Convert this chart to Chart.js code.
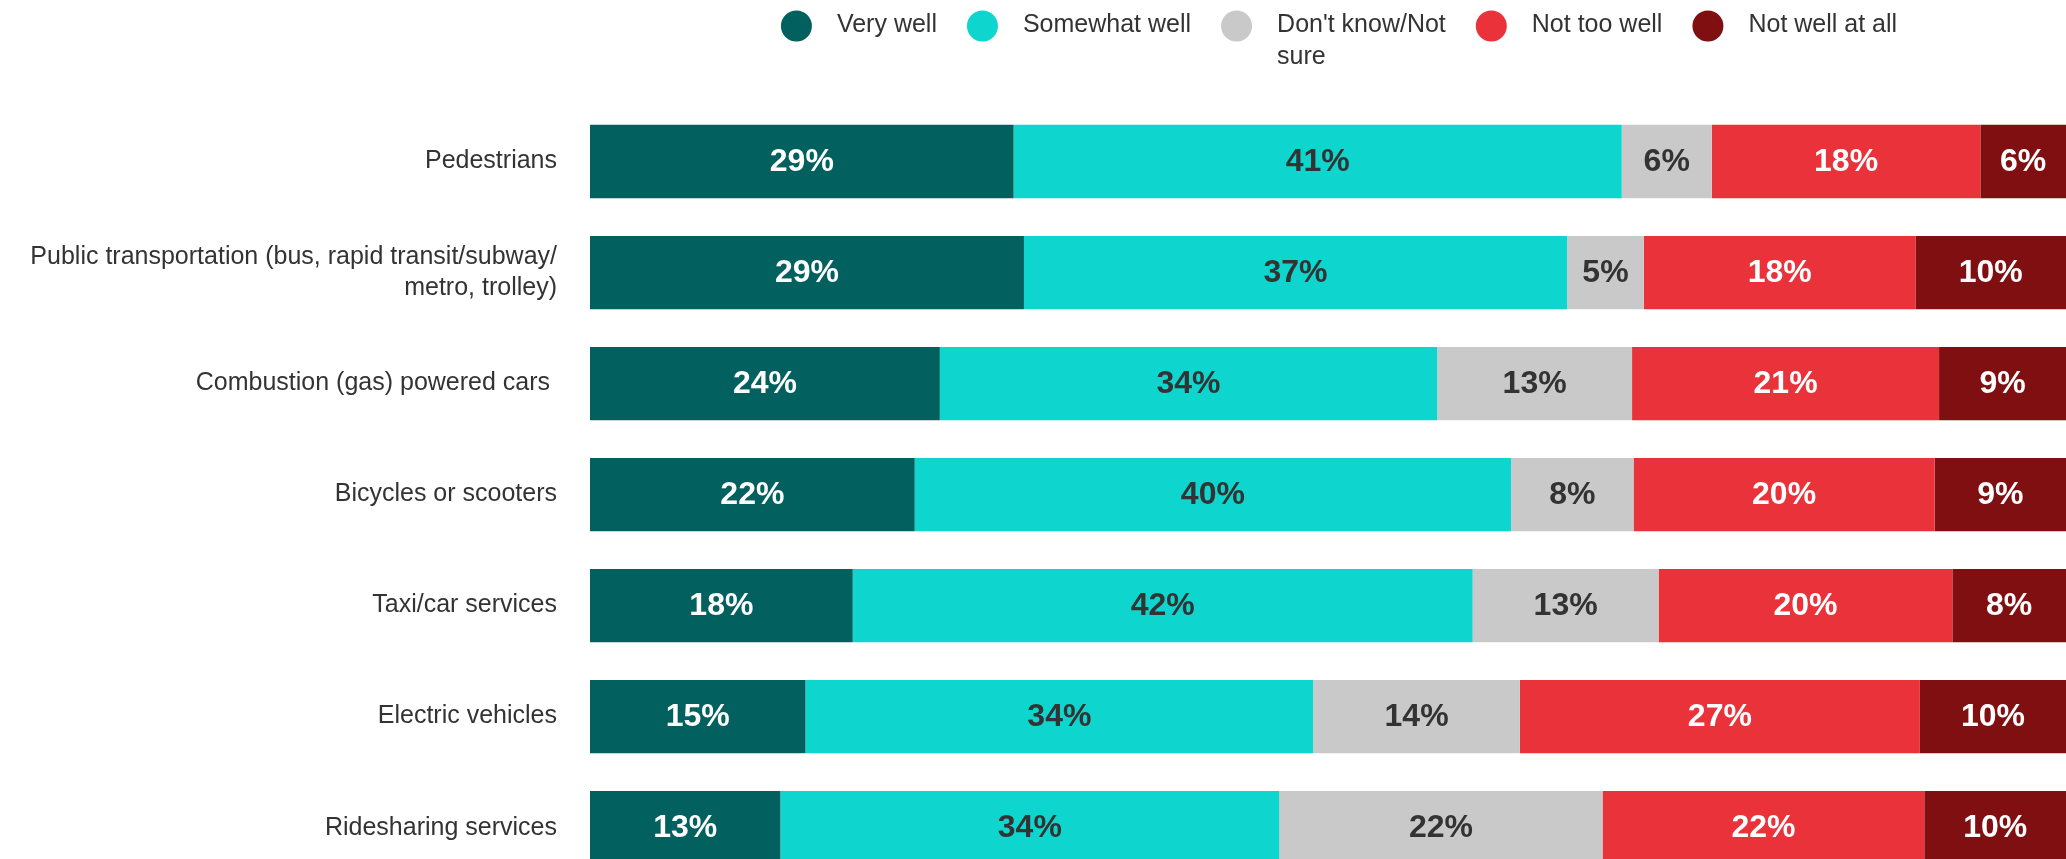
<!DOCTYPE html>
<html>
<head>
<meta charset="utf-8">
<title>How well served</title>
<script src="https://cdn.jsdelivr.net/npm/chart.js@4.4.1/dist/chart.umd.min.js"></script>
<style>
  html, body { margin: 0; padding: 0; background: #fff; overflow: hidden; }
  #chart { display: block; }
</style>
</head>
<body>
<canvas id="chart" width="2066" height="924"></canvas>
<script>
const categories = [
  'Pedestrians',
  ['Public transportation (bus, rapid transit/subway/', 'metro, trolley)'],
  'Combustion (gas) powered cars ',
  'Bicycles or scooters',
  'Taxi/car services',
  'Electric vehicles',
  'Ridesharing services'
];

const seriesNames = ['Very well', 'Somewhat well', "Don't know/Not sure", 'Not too well', 'Not well at all'];

// shares in %
const veryWell     = [28.7, 29.4, 23.7, 22.0, 17.8, 14.6, 12.9];
const somewhatWell = [41.2, 36.8, 33.7, 40.4, 42.0, 34.4, 33.8];
const dontKnow     = [6.1, 5.2, 13.2, 8.3, 12.6, 14.0, 21.9];
const notTooWell   = [18.2, 18.4, 20.8, 20.4, 19.9, 27.1, 21.8];
const notWellAtAll = [5.8, 10.2, 8.6, 8.9, 7.7, 9.9, 9.6];

const barColors   = ['#02605F', '#0ED6CF', '#C9C9C9', '#E9323A', '#7F0F11'];
const labelColors = ['#ffffff', '#333333', '#333333', '#ffffff', '#ffffff'];

const FONT = '"Liberation Sans", Arial, Helvetica, sans-serif';

// percentage text in the middle of every segment
const barLabels = {
  id: 'barLabels',
  afterDatasetsDraw(chart) {
    const ctx = chart.ctx;
    ctx.save();
    ctx.font = 'bold 32px ' + FONT;
    ctx.textAlign = 'center';
    ctx.textBaseline = 'middle';
    chart.data.datasets.forEach((ds, i) => {
      chart.getDatasetMeta(i).data.forEach((bar, j) => {
        const p = bar.getProps(['x', 'y', 'base'], true);
        ctx.fillStyle = labelColors[i];
        ctx.fillText(Math.round(ds.data[j]) + '%', (p.x + p.base) / 2, p.y + 1);
      });
    });
    ctx.restore();
  }
};

// legend with round markers, long names wrap onto a second line
const topLegend = {
  id: 'topLegend',
  afterDraw(chart) {
    const ctx = chart.ctx;
    const area = chart.chartArea;
    const r = 15.5, markGap = 25, itemGap = 30, maxText = 175, lineH = 32;
    ctx.save();
    ctx.font = '25px ' + FONT;
    const items = chart.data.datasets.map((ds) => {
      const words = ds.label.split(' ');
      const lines = [];
      let cur = '';
      words.forEach((w) => {
        const t = cur ? cur + ' ' + w : w;
        if (ctx.measureText(t).width > maxText && cur) { lines.push(cur); cur = w; }
        else cur = t;
      });
      lines.push(cur);
      const w = Math.max(...lines.map((l) => ctx.measureText(l).width));
      return { lines, w, color: ds.backgroundColor };
    });
    const total = items.reduce((s, it) => s + 2 * r + markGap + it.w, 0) + itemGap * (items.length - 1);
    let x = (area.left + area.right) / 2 + 11 - total / 2;
    const cy = 26;
    ctx.textBaseline = 'middle';
    ctx.textAlign = 'left';
    items.forEach((it) => {
      ctx.fillStyle = it.color;
      ctx.beginPath();
      ctx.arc(x + r, cy, r, 0, Math.PI * 2);
      ctx.fill();
      ctx.fillStyle = '#333333';
      it.lines.forEach((l, k) => ctx.fillText(l, x + 2 * r + markGap, cy - 1 + k * lineH));
      x += 2 * r + markGap + it.w + itemGap;
    });
    ctx.restore();
  }
};

const allSeries = [veryWell, somewhatWell, dontKnow, notTooWell, notWellAtAll];

new Chart(document.getElementById('chart'), {
  type: 'bar',
  data: {
    labels: categories,
    datasets: allSeries.map((vals, i) => ({
      label: seriesNames[i],
      data: vals,
      backgroundColor: barColors[i],
      borderWidth: 0,
      categoryPercentage: 1,
      barPercentage: 0.66
    }))
  },
  plugins: [barLabels, topLegend],
  options: {
    indexAxis: 'y',
    responsive: false,
    animation: false,
    layout: { padding: { top: 106, bottom: 0, left: 0, right: 0 } },
    plugins: {
      legend: { display: false },
      tooltip: { enabled: false }
    },
    scales: {
      x: { stacked: true, min: 0, max: 100, display: false },
      y: {
        stacked: true,
        grid: { display: false },
        border: { display: false },
        ticks: {
          color: '#333333',
          padding: 25,
          font: { family: FONT, size: 25, lineHeight: 1.27 }
        },
        afterFit(scale) { scale.width = 590; }
      }
    }
  }
});
</script>
</body>
</html>
